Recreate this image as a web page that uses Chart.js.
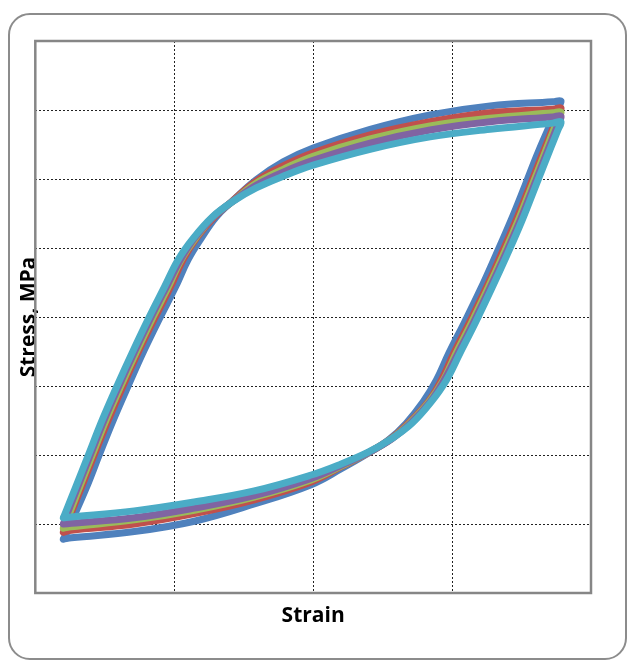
<!DOCTYPE html>
<html>
<head>
<meta charset="utf-8">
<script src="https://cdn.jsdelivr.net/npm/chart.js@4/dist/chart.umd.min.js"></script>
<style>
  html, body { margin: 0; padding: 0; background: #fff; }
  #wrap { position: relative; width: 629px; height: 664px; }
  #frame {
    position: absolute; left: 8px; top: 13px; width: 619px; height: 647px;
    box-sizing: border-box; border: 2px solid #8c8c8c; border-radius: 22px;
  }
  #chart { position: absolute; left: 0; top: 0; }
</style>
</head>
<body>
<div id="wrap">
  <div id="frame"></div>
  <canvas id="chart" width="629" height="664"></canvas>
</div>
<script>
// strain (%) and stress (MPa), one closed loop per cycle
const strainBlue   = [-0.899,-0.885,-0.817,-0.770,-0.719,-0.665,-0.608,-0.550,-0.496,-0.450,-0.403,-0.349,-0.291,-0.205,-0.108,0,0.205,0.421,0.637,0.863,0.892,
                      0.878,0.810,0.763,0.712,0.658,0.601,0.543,0.489,0.443,0.396,0.335,0.272,0.196,0.101,-0.007,-0.212,-0.428,-0.644,-0.870,-0.899];
const stressBlue   = [-322,-310,-248,-200,-149,-99,-48,0,43,83,114,145,168,199,225,245,272,293,306,312,313,
                      301,239,191,140,90,39,-9,-52,-92,-123,-154,-178,-198,-220,-243,-271,-296,-311,-320,-322];

const strainRed    = [-0.899,-0.888,-0.835,-0.788,-0.737,-0.683,-0.626,-0.568,-0.514,-0.468,-0.421,-0.356,-0.291,-0.205,-0.108,0,0.205,0.421,0.637,0.863,0.892,
                      0.881,0.828,0.781,0.730,0.676,0.619,0.561,0.507,0.461,0.414,0.343,0.278,0.197,0.101,-0.007,-0.212,-0.428,-0.644,-0.870,-0.899];
const stressRed    = [-312,-301,-248,-200,-149,-99,-48,0,43,83,114,145,168,197,219,238,264,283,296,301,303,
                      292,239,191,140,90,39,-9,-52,-92,-123,-154,-177,-197,-217,-239,-265,-285,-300,-309,-312];

const strainGreen  = [-0.899,-0.888,-0.842,-0.795,-0.745,-0.691,-0.633,-0.576,-0.522,-0.475,-0.424,-0.360,-0.291,-0.205,-0.108,0,0.205,0.421,0.637,0.863,0.892,
                      0.881,0.835,0.788,0.738,0.684,0.626,0.569,0.515,0.468,0.417,0.347,0.280,0.197,0.101,-0.007,-0.212,-0.428,-0.644,-0.870,-0.899];
const stressGreen  = [-306,-296,-248,-200,-149,-99,-48,0,43,83,114,145,167,194,214,233,258,277,288,296,297,
                      287,239,191,140,90,39,-9,-52,-92,-123,-154,-177,-197,-216,-236,-261,-280,-294,-304,-306];

const strainPurple = [-0.899,-0.888,-0.849,-0.802,-0.752,-0.698,-0.640,-0.583,-0.529,-0.478,-0.428,-0.360,-0.291,-0.205,-0.108,0,0.205,0.421,0.637,0.863,0.892,
                      0.881,0.842,0.795,0.745,0.691,0.633,0.576,0.522,0.471,0.421,0.351,0.282,0.197,0.101,-0.007,-0.212,-0.428,-0.644,-0.870,-0.899];
const stressPurple = [-300,-288,-248,-200,-149,-99,-48,0,43,83,114,145,167,191,210,227,252,271,283,290,291,
                      279,239,191,140,90,39,-9,-52,-92,-123,-154,-177,-197,-215,-234,-259,-277,-291,-299,-300];

const strainCyan   = [-0.899,-0.888,-0.856,-0.809,-0.759,-0.705,-0.647,-0.590,-0.536,-0.486,-0.432,-0.363,-0.291,-0.205,-0.108,0,0.205,0.421,0.637,0.863,0.892,
                      0.881,0.849,0.802,0.752,0.698,0.640,0.583,0.529,0.479,0.425,0.356,0.284,0.198,0.101,-0.007,-0.212,-0.428,-0.644,-0.870,-0.899];
const stressCyan   = [-291,-280,-248,-200,-149,-99,-48,0,43,83,114,145,167,187,204,220,243,261,272,281,283,
                      271,239,191,140,90,39,-9,-52,-92,-123,-154,-176,-196,-213,-229,-252,-268,-281,-290,-291];

const xTitle = "Strain";
const yTitle = "Stress, MPa";

function toPoints(xs, ys) {
    return xs.map((x, i) => ({ x: x, y: ys[i] }));
}

function loop(xs, ys, color, order) {
    return {
        data: toPoints(xs, ys),
        showLine: true,
        borderColor: color,
        backgroundColor: color,
        borderWidth: 7,
        pointRadius: 0,
        tension: 0.4,
        borderJoinStyle: 'round',
        borderCapStyle: 'round',
        order: order
    };
}

// gray box round the plot area
const plotBox = {
    id: 'plotBox',
    beforeDatasetsDraw(chart) {
        const { ctx, chartArea: a } = chart;
        ctx.save();
        ctx.strokeStyle = '#868686';
        ctx.lineWidth = 2.5;
        ctx.strokeRect(a.left, a.top, a.right - a.left, a.bottom - a.top);
        ctx.restore();
    }
};

const titleFont = { family: "'Open Sans', sans-serif", size: 21, weight: 'bold' };

new Chart(document.getElementById('chart'), {
    type: 'scatter',
    data: {
        datasets: [
            loop(strainBlue, stressBlue, '#4F81BD', 5),
            loop(strainRed, stressRed, '#C0504D', 4),
            loop(strainGreen, stressGreen, '#9BBB59', 3),
            loop(strainPurple, stressPurple, '#8064A2', 2),
            loop(strainCyan, stressCyan, '#4BACC6', 1)
        ]
    },
    options: {
        responsive: false,
        animation: false,
        layout: { padding: { left: 22.7, right: 38, top: 41, bottom: 35.4 } },
        plugins: { legend: { display: false }, tooltip: { enabled: false } },
        scales: {
            x: {
                type: 'linear', min: -1, max: 1,
                ticks: { display: false, stepSize: 0.5 },
                grid: { color: '#222', lineWidth: 1, drawTicks: false },
                border: { display: false, dash: [2, 2] },
                title: { display: true, text: xTitle, color: '#000', font: titleFont, padding: { top: 10.4, bottom: 0 } }
            },
            y: {
                type: 'linear', min: -400, max: 400,
                ticks: { display: false, stepSize: 100 },
                grid: { color: '#222', lineWidth: 1, drawTicks: false },
                border: { display: false, dash: [2, 2] },
                title: { display: true, text: yTitle, color: '#000', font: Object.assign({}, titleFont, { lineHeight: 0.6 }), padding: { top: 0, bottom: 0 } }
            }
        }
    },
    plugins: [plotBox]
});
</script>
</body>
</html>
